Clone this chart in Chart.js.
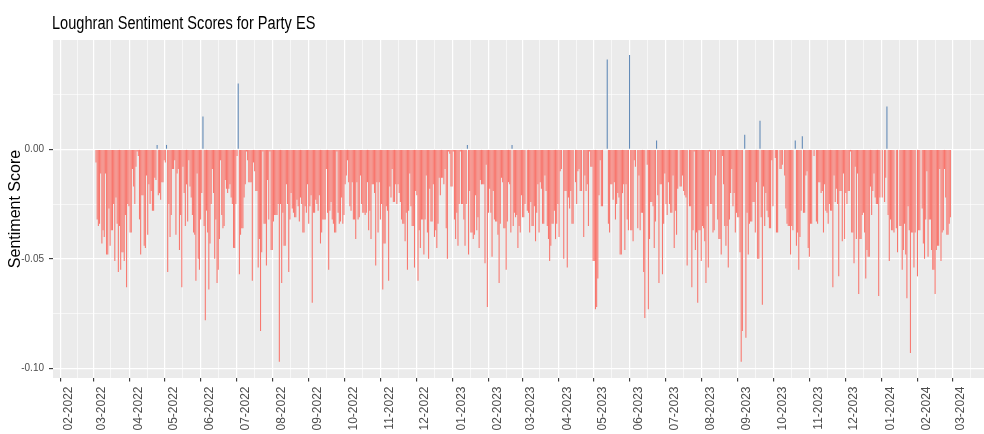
<!DOCTYPE html>
<html>
<head>
<meta charset="utf-8">
<script src="https://cdn.jsdelivr.net/npm/chart.js@4.4.0/dist/chart.umd.min.js"></script>
<style>
  html, body { margin: 0; padding: 0; background: #ffffff; }
</style>
</head>
<body>
<canvas id="chart" width="984" height="434"></canvas>
<script>
// one score per day starting at firstDate, null = no articles that day
const firstDate = "2022-02-24";
const scores = [
  // 2022-02-24 ..
  -0.006, -0.032, -0.035, -0.034, -0.011, -0.043, -0.037, -0.040, -0.011, -0.048,
  -0.048, -0.027, -0.044, -0.037, -0.037, -0.025, -0.051, -0.022, -0.034, -0.056,
  -0.035, -0.055, -0.047, -0.047, -0.051, -0.030, -0.063, -0.025, -0.026, -0.038,
  -0.038, -0.009, -0.017, -0.025, -0.008, -0.001, -0.003, -0.032, -0.048, -0.021,
  -0.021, -0.044, -0.045, -0.012, -0.039, -0.016, -0.025, -0.019, -0.028, -0.028,
  -0.013, -0.014, 0.002, -0.021, -0.020, -0.023, -0.015, -0.015, -0.005, -0.006,
  0.002, -0.056, -0.025,
  // 2022-04-28 ..
  -0.040, -0.030, -0.009, -0.009, -0.005, -0.039, -0.011, -0.009, -0.046, -0.030,
  -0.063, -0.008, -0.020, -0.035, -0.016, -0.033, -0.005, -0.017, -0.022, -0.030,
  -0.038, -0.039, -0.060, -0.011, -0.050, -0.055, -0.032, -0.020, 0.015, -0.035,
  -0.078, -0.028, -0.038, -0.064, -0.043, -0.025, -0.009, -0.020, -0.050, -0.032,
  -0.061, -0.055, -0.041, -0.005, -0.030, -0.036, -0.035, -0.014, -0.018, -0.020,
  -0.018, -0.016, -0.022, -0.025, -0.045, -0.045, -0.025, -0.003, 0.030, -0.057,
  -0.039, -0.036, -0.036, -0.022, -0.016, -0.001, -0.005, -0.015,
  // 2022-07-05 ..
  -0.015, -0.015, -0.060, -0.006, -0.010, -0.019, -0.019, -0.054, -0.041, -0.083,
  -0.047, -0.001, -0.034, -0.034, -0.053, -0.014, -0.032, -0.001, -0.046, -0.046,
  -0.033, -0.030, -0.030, -0.030, -0.025, -0.097, -0.025, -0.061, -0.029, -0.044,
  -0.044, -0.016, -0.025, -0.056, -0.032, -0.020, -0.027, -0.029, -0.031, -0.031,
  -0.023, -0.026, -0.033, -0.022, -0.025, -0.038, -0.038, -0.026, -0.029, -0.016,
  -0.034, -0.026, -0.021, -0.070, -0.029, -0.029, -0.023, -0.025, -0.028, -0.021,
  -0.043, -0.038, -0.032, -0.032, -0.032, -0.009, -0.029, -0.055,
  // 2022-09-11 ..
  -0.028, -0.024, -0.032, -0.034, -0.038, -0.038, -0.001, -0.029, -0.034, -0.033,
  -0.022, -0.034, -0.030, -0.016, -0.012, -0.005, -0.015, -0.026, -0.028, -0.015,
  -0.032, -0.032, -0.041, -0.015, -0.032, -0.031, -0.012, -0.025, -0.029, -0.029,
  -0.030, -0.029, -0.015, -0.037, -0.028, -0.041, -0.016, -0.016, -0.020, -0.053,
  -0.015, -0.038, -0.015, -0.032, -0.025, -0.064, -0.043, -0.043, -0.026, -0.028,
  -0.060, -0.017, -0.022, -0.009, -0.024, -0.024, -0.016, -0.025, -0.016, -0.020,
  -0.024, -0.032, -0.034, -0.034, -0.042, -0.029, -0.055, -0.028,
  // 2022-11-18 ..
  -0.011, -0.026, -0.035, -0.035, -0.054, -0.019, -0.021, -0.060, -0.037, -0.045,
  -0.032, -0.032, -0.048, -0.032, -0.012, -0.038, -0.050, -0.018, -0.033, -0.033,
  -0.016, -0.040, -0.037, -0.045, -0.034, -0.013, -0.021, -0.013, -0.013, -0.016,
  -0.009, -0.036, -0.050, -0.001, -0.002, -0.017, -0.017, -0.001, -0.032, -0.041,
  -0.029, -0.044, -0.025, -0.001, -0.025, -0.025, -0.032, -0.044, -0.025, 0.002,
  -0.048, -0.019, -0.038, -0.038, -0.041, -0.039, -0.021, -0.037, -0.031, -0.045,
  -0.014, -0.016, -0.016, -0.016, -0.052, -0.007, -0.072, -0.029,
  // 2023-01-25 ..
  -0.018, -0.029, -0.049, -0.019, -0.032, -0.033, -0.033, -0.039, -0.061, -0.034,
  -0.013, -0.015, -0.036, -0.036, -0.055, -0.033, -0.015, -0.016, -0.038, 0.002,
  -0.035, -0.029, -0.031, -0.030, -0.045, -0.035, -0.038, -0.021, -0.031, -0.031,
  -0.025, null, -0.028, -0.029, -0.038, -0.024, -0.035, -0.035, -0.026, -0.042,
  -0.029, -0.016, -0.038, -0.015, -0.018, -0.034, -0.034, -0.012, -0.019, -0.035,
  -0.041, -0.051, -0.044, -0.034, -0.034, -0.028, -0.041, -0.034, -0.025, -0.040,
  -0.010, -0.009, null, -0.050, -0.019, -0.019, -0.054, -0.022,
  // 2023-04-03 ..
  -0.027, -0.019, -0.034, -0.034, null, -0.015, -0.025, -0.010, -0.009, -0.019,
  -0.019, null, -0.040, -0.012, -0.019, -0.016, -0.035, -0.001, -0.008, -0.008,
  -0.051, -0.051, -0.073, -0.072, -0.059, -0.021, -0.005, -0.026, -0.026, null,
  null, null, 0.041, -0.034, -0.038, -0.016, -0.016, -0.023, -0.015, -0.032,
  -0.025, -0.020, -0.022, -0.048, -0.048, -0.020, -0.016, -0.046, -0.016, -0.032,
  -0.037, 0.043, -0.037, -0.037, -0.042, -0.005, -0.008, null, -0.036, -0.012,
  -0.037, -0.029, -0.029, -0.056, -0.077, null, -0.007, -0.073,
  // 2023-06-10 ..
  -0.041, -0.024, -0.024, -0.026, -0.045, -0.033, 0.004, -0.021, -0.061, -0.016,
  -0.016, -0.057, -0.034, -0.011, -0.025, -0.030, -0.015, -0.025, -0.029, -0.029,
  -0.012, -0.045, -0.028, -0.039, -0.018, null, -0.017, -0.017, -0.012, -0.019,
  -0.021, -0.022, -0.053, null, -0.026, -0.026, -0.063, -0.037, -0.001, -0.046,
  -0.038, -0.070, -0.037, -0.037, -0.051, -0.035, -0.036, -0.042, -0.061, -0.026,
  -0.054, -0.001, -0.025, -0.025, -0.038, -0.037, -0.012, null, -0.032, -0.041,
  -0.041, -0.048, -0.003, -0.016, -0.035, -0.044, -0.035, -0.054,
  // 2023-08-17 ..
  -0.032, -0.020, -0.009, -0.026, -0.020, -0.038, -0.029, -0.031, -0.031, -0.047,
  -0.097, -0.083, null, 0.0066, -0.086, -0.029, -0.048, -0.034, -0.033, -0.033,
  -0.024, -0.024, -0.038, -0.015, -0.050, -0.050, 0.013, -0.031, -0.071, -0.017,
  -0.035, -0.020, -0.028, -0.031, -0.036, -0.036, -0.005, -0.026, null, -0.004,
  -0.038, -0.038, null, -0.009, -0.009, -0.007, null, -0.012, -0.027, -0.034,
  -0.035, -0.035, -0.048, -0.035, -0.037, null, 0.004, -0.044, -0.038, -0.055,
  -0.040, -0.028, 0.006, -0.029, -0.029, -0.012, -0.010, -0.045,
  // 2023-10-24 ..
  -0.049, -0.034, -0.034, null, -0.003, null, -0.033, -0.034, -0.015, -0.015,
  -0.020, -0.019, -0.038, -0.016, -0.028, -0.029, -0.034, -0.025, -0.028, -0.028,
  -0.063, -0.012, -0.024, -0.018, -0.025, -0.058, -0.019, -0.019, -0.042, -0.011,
  -0.041, -0.020, -0.025, -0.019, -0.019, -0.001, -0.038, -0.038, -0.052, -0.008,
  -0.041, -0.011, -0.066, -0.041, -0.041, -0.030, -0.029, -0.038, -0.059, -0.046,
  -0.049, -0.049, -0.017, -0.030, -0.019, -0.011, -0.022, -0.025, -0.025, -0.067,
  -0.022, null, -0.022, null, -0.024, -0.013, 0.0195, -0.030,
  // 2023-12-31 ..
  -0.051, -0.032, -0.037, -0.037, -0.038, null, -0.036, -0.047, null, -0.035,
  -0.035, -0.055, -0.046, -0.034, -0.048, -0.068, -0.026, -0.037, -0.093, -0.038,
  -0.038, -0.054, -0.038, null, -0.058, -0.037, -0.037, null, -0.027, -0.043,
  -0.050, -0.032, -0.010, -0.049, -0.032, -0.032, -0.046, -0.055, -0.055, -0.066,
  -0.046, -0.044, -0.044, -0.009, -0.051, -0.038, -0.037, -0.009, -0.022, -0.039,
  -0.039, -0.034, -0.031,
];

const monthLabels = [
  "02-2022", "03-2022", "04-2022", "05-2022", "06-2022", "07-2022", "08-2022",
  "09-2022", "10-2022", "11-2022", "12-2022", "01-2023", "02-2023", "03-2023",
  "04-2023", "05-2023", "06-2023", "07-2023", "08-2023", "09-2023", "10-2023",
  "11-2023", "12-2023", "01-2024", "02-2024", "03-2024",
];
const yTickValues = [-0.1, -0.05, 0];
const yTickLabels = ["-0.10", "-0.05", "0.00"];

const posColor = "#5F88B6";
const negColor = "#F8766D";

// days counted from 2022-02-01
const DAY = 86400000;
const origin = Date.UTC(2022, 1, 1);
function dayOf(y, m, d) {
    return (Date.UTC(y, m - 1, d) - origin) / DAY;
}

const [fy, fm, fd] = firstDate.split("-").map(Number);
const start = dayOf(fy, fm, fd);
const points = scores.map((v, i) => ({ x: start + i, y: v }));

const monthDays = monthLabels.map((s) => {
    const [m, y] = s.split("-").map(Number);
    return dayOf(y, m, 1);
});
// ggplot style minor breaks: halfway between the month breaks
const lastM = monthLabels[monthLabels.length - 1].split("-").map(Number);
const afterLast = dayOf(lastM[1], lastM[0] + 1, 1);
const allMonths = monthDays.concat([afterLast]);
const xMinor = [];
for (let i = 0; i < allMonths.length - 1; i++) {
    xMinor.push((allMonths[i] + allMonths[i + 1]) / 2);
}

const xMin = -13.6;
const xMax = 778.6;
const yMin = -0.1044;
const yMax = 0.0499;

const xTicks = monthDays.concat(xMinor).filter((v) => v >= xMin && v <= xMax).sort((a, b) => a - b);
const yTicks = [];
yTickValues.forEach((v, i) => {
    yTicks.push(v);
    const next = i < yTickValues.length - 1 ? yTickValues[i + 1] : v + 0.05;
    yTicks.push((v + next) / 2);
});

function isMajorX(tick) {
    return tick && monthDays.includes(tick.value);
}
function yLabelIndex(v) {
    return yTickValues.findIndex((t) => Math.abs(t - v) < 1e-9);
}

const panelPlugin = {
    id: "panel",
    beforeDraw(chart) {
        const { ctx, chartArea: a } = chart;
        ctx.save();
        ctx.fillStyle = "#EBEBEB";
        ctx.fillRect(a.left, a.top, a.right - a.left, a.bottom - a.top);
        ctx.restore();
    },
    afterDraw(chart) {
        const ctx = chart.ctx;
        ctx.save();
        ctx.font = "18px 'Liberation Sans', Arial, sans-serif";
        ctx.fillStyle = "#000000";
        ctx.textBaseline = "alphabetic";
        ctx.translate(52, 29);
        ctx.scale(0.81, 1);
        ctx.fillText("Loughran Sentiment Scores for Party ES", 0, 0);
        ctx.restore();
    },
};

Chart.defaults.font.family = "'Liberation Sans', Arial, sans-serif";

const ctx = document.getElementById("chart").getContext("2d");
const chart = new Chart(ctx, {
    type: "bar",
    data: {
        datasets: [
            {
                data: points,
                backgroundColor: (c) => (c.raw && c.raw.y > 0 ? posColor : negColor),
                borderWidth: 0,
                inflateAmount: 0,
                barPercentage: 0.9,
                categoryPercentage: 1.0,
            },
        ],
    },
    options: {
        responsive: false,
        devicePixelRatio: 1,
        animation: false,
        layout: { padding: { top: 40, left: 0, right: 0, bottom: 0 } },
        plugins: {
            legend: { display: false },
            tooltip: { enabled: false },
        },
        scales: {
            x: {
                type: "linear",
                min: xMin,
                max: xMax,
                offset: false,
                afterBuildTicks: (s) => {
                    s.ticks = xTicks.map((v) => ({ value: v }));
                },
                afterFit: (s) => {
                    s.height = 56;
                    s.paddingLeft = 0;
                    s.paddingRight = 0;
                },
                border: { display: false },
                grid: {
                    color: "#FFFFFF",
                    lineWidth: (c) => (isMajorX(c.tick) ? 1.2 : 0.6),
                    tickColor: (c) => (isMajorX(c.tick) ? "#333333" : "rgba(0,0,0,0)"),
                    tickWidth: 1.1,
                    tickLength: 3.5,
                },
                ticks: {
                    autoSkip: false,
                    minRotation: 90,
                    maxRotation: 90,
                    padding: 5,
                    color: "#4D4D4D",
                    font: { size: 12 },
                    callback: (v) => {
                        const i = monthDays.indexOf(v);
                        return i >= 0 ? monthLabels[i] : "";
                    },
                },
            },
            y: {
                min: yMin,
                max: yMax,
                afterBuildTicks: (s) => {
                    s.ticks = yTicks.map((v) => ({ value: v }));
                },
                afterFit: (s) => {
                    s.width = 53;
                    s.paddingTop = 0;
                    s.paddingBottom = 0;
                },
                border: { display: false },
                grid: {
                    color: "#FFFFFF",
                    lineWidth: (c) => (c.tick && yLabelIndex(c.tick.value) >= 0 ? 1.2 : 0.6),
                    tickColor: (c) => (c.tick && yLabelIndex(c.tick.value) >= 0 ? "#333333" : "rgba(0,0,0,0)"),
                    tickWidth: 1.1,
                    tickLength: 4,
                },
                ticks: {
                    padding: 5,
                    color: "#4D4D4D",
                    font: { size: 10 },
                    callback: (v) => {
                        const i = yLabelIndex(v);
                        return i >= 0 ? yTickLabels[i] : "";
                    },
                },
                title: {
                    display: true,
                    text: "Sentiment Score",
                    color: "#000000",
                    font: { size: 16 },
                    padding: { top: 6, bottom: 0 },
                },
            },
        },
    },
    plugins: [panelPlugin],
});
</script>
</body>
</html>
